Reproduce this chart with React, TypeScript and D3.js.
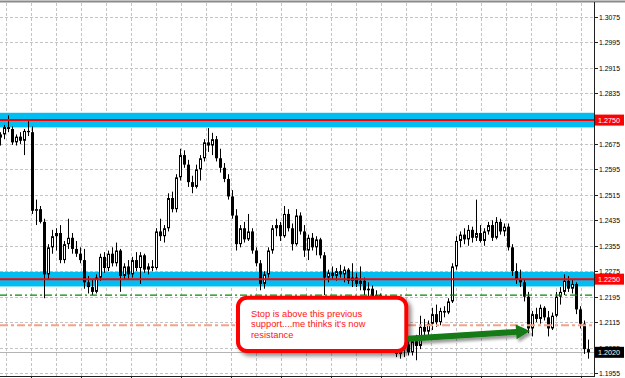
import React from "react";
import * as d3 from "d3";

const opens = [1.2695,1.2705,1.2728,1.2722,1.2680,1.2698,1.2685,1.2716,1.2712,1.2465,1.2470,1.2430,1.2265,1.2350,1.2385,1.2395,1.2310,1.2360,1.2380,1.2345,1.2330,1.2310,1.2240,1.2225,1.2210,1.2255,1.2320,1.2285,1.2330,1.2300,1.2340,1.2260,1.2290,1.2265,1.2310,1.2285,1.2325,1.2280,1.2290,1.2285,1.2400,1.2385,1.2410,1.2505,1.2470,1.2570,1.2640,1.2610,1.2555,1.2540,1.2595,1.2630,1.2680,1.2670,1.2690,1.2630,1.2600,1.2565,1.2510,1.2450,1.2360,1.2410,1.2375,1.2400,1.2340,1.2300,1.2235,1.2265,1.2340,1.2410,1.2420,1.2385,1.2455,1.2410,1.2360,1.2450,1.2400,1.2340,1.2380,1.2350,1.2375,1.2325,1.2255,1.2270,1.2260,1.2275,1.2265,1.2280,1.2245,1.2255,1.2235,1.2245,1.2215,1.2220,1.2190,1.2200,1.2150,1.2100,1.2060,1.2035,1.2015,1.2030,1.2045,1.2020,1.2055,1.2040,1.2100,1.2085,1.2110,1.2140,1.2115,1.2150,1.2145,1.2180,1.2290,1.2370,1.2390,1.2375,1.2405,1.2380,1.2395,1.2370,1.2400,1.2420,1.2380,1.2430,1.2400,1.2415,1.2350,1.2275,1.2250,1.2240,1.2195,1.2095,1.2140,1.2125,1.2160,1.2130,1.2095,1.2135,1.2195,1.2210,1.2245,1.2220,1.2235,1.2155,1.2110,1.2030];
const highs = [1.2712,1.2735,1.2765,1.2730,1.2705,1.2712,1.2722,1.2752,1.2730,1.2500,1.2480,1.2440,1.2360,1.2405,1.2410,1.2420,1.2370,1.2440,1.2395,1.2370,1.2350,1.2345,1.2260,1.2250,1.2265,1.2330,1.2335,1.2340,1.2350,1.2365,1.2345,1.2300,1.2310,1.2320,1.2335,1.2335,1.2330,1.2300,1.2310,1.2410,1.2440,1.2420,1.2520,1.2525,1.2580,1.2660,1.2655,1.2625,1.2575,1.2610,1.2640,1.2690,1.2725,1.2710,1.2700,1.2660,1.2615,1.2580,1.2530,1.2470,1.2420,1.2430,1.2455,1.2410,1.2350,1.2310,1.2275,1.2350,1.2420,1.2440,1.2430,1.2480,1.2470,1.2425,1.2470,1.2460,1.2420,1.2390,1.2395,1.2385,1.2380,1.2335,1.2280,1.2290,1.2285,1.2295,1.2290,1.2285,1.2300,1.2270,1.2290,1.2255,1.2240,1.2230,1.2215,1.2205,1.2165,1.2110,1.2080,1.2050,1.2045,1.2055,1.2070,1.2065,1.2075,1.2135,1.2125,1.2120,1.2160,1.2170,1.2160,1.2165,1.2190,1.2300,1.2385,1.2400,1.2410,1.2420,1.2415,1.2500,1.2420,1.2410,1.2430,1.2435,1.2445,1.2440,1.2425,1.2425,1.2360,1.2300,1.2280,1.2250,1.2210,1.2150,1.2160,1.2170,1.2165,1.2150,1.2145,1.2210,1.2225,1.2265,1.2260,1.2250,1.2240,1.2165,1.2120,1.2060];
const lows = [1.2670,1.2690,1.2712,1.2672,1.2670,1.2675,1.2640,1.2700,1.2455,1.2420,1.2425,1.2190,1.2250,1.2330,1.2340,1.2300,1.2300,1.2345,1.2330,1.2320,1.2300,1.2220,1.2205,1.2200,1.2205,1.2245,1.2270,1.2275,1.2290,1.2290,1.2210,1.2250,1.2250,1.2255,1.2275,1.2235,1.2270,1.2265,1.2275,1.2280,1.2370,1.2365,1.2400,1.2460,1.2460,1.2560,1.2600,1.2540,1.2520,1.2535,1.2560,1.2620,1.2650,1.2640,1.2620,1.2585,1.2555,1.2500,1.2440,1.2340,1.2350,1.2365,1.2370,1.2330,1.2290,1.2215,1.2220,1.2255,1.2330,1.2385,1.2370,1.2380,1.2400,1.2340,1.2355,1.2390,1.2320,1.2310,1.2340,1.2325,1.2315,1.2200,1.2240,1.2250,1.2245,1.2255,1.2240,1.2235,1.2225,1.2225,1.2215,1.2200,1.2195,1.2180,1.2170,1.2140,1.2090,1.2050,1.2020,1.2005,1.2000,1.2005,1.2010,1.2010,1.1995,1.2030,1.2070,1.2065,1.2090,1.2100,1.2105,1.2130,1.2140,1.2175,1.2280,1.2350,1.2360,1.2355,1.2365,1.2370,1.2365,1.2355,1.2390,1.2370,1.2375,1.2390,1.2385,1.2340,1.2260,1.2235,1.2225,1.2180,1.2080,1.2070,1.2115,1.2110,1.2120,1.2070,1.2090,1.2130,1.2170,1.2200,1.2210,1.2205,1.2140,1.2095,1.2015,1.2000];
const closes = [1.2705,1.2728,1.2722,1.2680,1.2698,1.2685,1.2716,1.2712,1.2465,1.2470,1.2430,1.2265,1.2350,1.2385,1.2395,1.2310,1.2360,1.2380,1.2345,1.2330,1.2310,1.2240,1.2225,1.2210,1.2255,1.2320,1.2285,1.2330,1.2300,1.2340,1.2260,1.2290,1.2265,1.2310,1.2285,1.2325,1.2280,1.2290,1.2285,1.2400,1.2385,1.2410,1.2505,1.2470,1.2570,1.2640,1.2610,1.2555,1.2540,1.2595,1.2630,1.2680,1.2670,1.2690,1.2630,1.2600,1.2565,1.2510,1.2450,1.2360,1.2410,1.2375,1.2400,1.2340,1.2300,1.2235,1.2265,1.2340,1.2410,1.2420,1.2385,1.2455,1.2410,1.2360,1.2450,1.2400,1.2340,1.2380,1.2350,1.2375,1.2325,1.2255,1.2270,1.2260,1.2275,1.2265,1.2280,1.2245,1.2255,1.2235,1.2245,1.2215,1.2220,1.2190,1.2200,1.2150,1.2100,1.2060,1.2035,1.2015,1.2030,1.2045,1.2020,1.2055,1.2040,1.2100,1.2085,1.2110,1.2140,1.2115,1.2150,1.2145,1.2180,1.2290,1.2370,1.2390,1.2375,1.2405,1.2380,1.2395,1.2370,1.2400,1.2420,1.2380,1.2430,1.2400,1.2415,1.2350,1.2275,1.2250,1.2240,1.2195,1.2095,1.2140,1.2125,1.2160,1.2130,1.2095,1.2135,1.2195,1.2210,1.2245,1.2220,1.2235,1.2155,1.2110,1.2030,1.2020];

const priceTicks = [1.3075, 1.2995, 1.2915, 1.2835, 1.2755, 1.2675, 1.2595, 1.2515, 1.2435, 1.2355, 1.2275, 1.2195, 1.2115, 1.2035, 1.1955];
const hiddenTickLabels = [1.2755];
const zoneLevels = [1.2750, 1.2250];
const zoneHalfWidth = 0.0023;
const greenLevel = 1.2200;
const salmonLevel = 1.2105;
const currentPrice = 1.2020;
const calloutLines = ["Stop is above this previous", "support....me thinks it's now", "resistance"];
const arrowFrom = [101.8, 1.2063];
const arrowTo = [132.4, 1.2087];

export default function App() {
  const W = 625, H = 378, plotRight = 594;
  const n = closes.length;
  const y = d3.scaleLinear().domain([1.1955, 1.3075]).range([373, 16.7]);
  const x = d3.scaleLinear().domain([0, n - 1]).range([0.5, 0.5 + 4 * (n - 1)]);
  const vgrid = d3.range(6, plotRight, 25);
  const bottomTicks = d3.range(31, plotRight, 50);
  const font = "'Liberation Sans', Arial, sans-serif";

  const ax0 = x(arrowFrom[0]), ay0 = y(arrowFrom[1]);
  const ax1 = x(arrowTo[0]), ay1 = y(arrowTo[1]);
  const dx = ax1 - ax0, dy = ay1 - ay0, len = Math.hypot(dx, dy);
  const ux = dx / len, uy = dy / len, px = -uy, py = ux;
  const sw = 3, hl = 14, hw = 7.5;
  const bx = ax1 - ux * hl, by = ay1 - uy * hl;
  const arrowPts = [
    [ax0 + px * sw, ay0 + py * sw],
    [bx + px * sw, by + py * sw],
    [bx + px * hw, by + py * hw],
    [ax1, ay1],
    [bx - px * hw, by - py * hw],
    [bx - px * sw, by - py * sw],
    [ax0 - px * sw, ay0 - py * sw],
  ].map((p) => p.join(",")).join(" ");

  const priceLabel = (v: number, bg: string, fg: string, key: string) => (
    <g key={key}>
      <rect x={595} y={y(v) - 5.5} width={29} height={11} fill={bg} />
      <text x={598} y={y(v) + 3} fontSize={8} fontFamily={font} fill={fg} textLength={22} lengthAdjust="spacingAndGlyphs">
        {v.toFixed(4)}
      </text>
    </g>
  );

  return (
    <svg width={W} height={H} style={{ position: "fixed", left: 0, top: 0, background: "#fff" }}>
      <defs>
        <filter id="boxShadow" x="-10%" y="-20%" width="130%" height="150%">
          <feDropShadow dx="3" dy="3" stdDeviation="2" floodColor="#000" floodOpacity="0.45" />
        </filter>
        <filter id="arrowShadow" x="-10%" y="-50%" width="130%" height="250%">
          <feDropShadow dx="2" dy="3" stdDeviation="1.5" floodColor="#000" floodOpacity="0.4" />
        </filter>
        <clipPath id="plot"><rect x={0} y={2} width={plotRight} height={374} /></clipPath>
      </defs>
      <rect x={0} y={0} width={W} height={H} fill="#fff" />
      <g stroke="#c4c4c4" strokeWidth={1} strokeDasharray="3,2">
        {priceTicks.map((t) => (
          <line key={"h" + t} x1={0} x2={plotRight} y1={Math.round(y(t)) + 0.5} y2={Math.round(y(t)) + 0.5} />
        ))}
        {vgrid.map((g) => (
          <line key={"v" + g} x1={g + 0.5} x2={g + 0.5} y1={3} y2={376} />
        ))}
      </g>
      <g clipPath="url(#plot)">
        {zoneLevels.map((z) => (
          <rect key={"z" + z} x={0} y={y(z + zoneHalfWidth)} width={plotRight} height={y(z - zoneHalfWidth) - y(z + zoneHalfWidth)} fill="#00BDF2" />
        ))}
        <line x1={0} x2={plotRight} y1={Math.round(y(currentPrice)) + 0.5} y2={Math.round(y(currentPrice)) + 0.5} stroke="#b4b4b4" strokeWidth={1} />
        {closes.map((c, i) => {
          const o = opens[i], h = highs[i], l = lows[i];
          const cx = x(i);
          const top = y(Math.max(o, c)), bot = y(Math.min(o, c));
          const bull = c >= o;
          const bh = Math.max(1, bot - top);
          return (
            <g key={i}>
              <line x1={cx} x2={cx} y1={y(h)} y2={y(l)} stroke="#000" strokeWidth={1} />
              {bull ? (
                <rect x={cx - 1} y={top + 0.5} width={2} height={Math.max(0.5, bh - 1)} fill="#fff" stroke="#000" strokeWidth={1} />
              ) : (
                <rect x={cx - 1.5} y={top} width={3} height={bh} fill="#000" />
              )}
            </g>
          );
        })}
        {zoneLevels.map((z) => (
          <line key={"r" + z} x1={0} x2={plotRight} y1={y(z)} y2={y(z)} stroke="#FF0000" strokeWidth={2} />
        ))}
        <line x1={0} x2={plotRight} y1={y(greenLevel)} y2={y(greenLevel)} stroke="#008C00" strokeWidth={1.3} strokeDasharray="7,3,2,3" />
        <line x1={0} x2={plotRight} y1={y(salmonLevel)} y2={y(salmonLevel)} stroke="#F5A385" strokeWidth={2} strokeDasharray="8,3,3,3" />
      </g>
      <line x1={0} x2={W} y1={1.5} y2={1.5} stroke="#8a8a8a" strokeWidth={2} />
      <line x1={plotRight + 0.5} x2={plotRight + 0.5} y1={2} y2={377} stroke="#202020" strokeWidth={1} />
      <line x1={0} x2={plotRight} y1={376.5} y2={376.5} stroke="#202020" strokeWidth={1} />
      {bottomTicks.map((t) => (
        <line key={"bt" + t} x1={t + 0.5} x2={t + 0.5} y1={376} y2={378} stroke="#202020" />
      ))}
      {priceTicks.map((t) => (
        <g key={"t" + t}>
          <line x1={plotRight} x2={598} y1={Math.round(y(t)) + 0.5} y2={Math.round(y(t)) + 0.5} stroke="#202020" />
          {hiddenTickLabels.includes(t) ? null : (
            <text x={599} y={y(t) + 3} fontSize={8} fontFamily={font} fill="#000" textLength={21} lengthAdjust="spacingAndGlyphs">
              {t.toFixed(4)}
            </text>
          )}
        </g>
      ))}
      {zoneLevels.map((z) => priceLabel(z, "#FF0000", "#fff", "pl" + z))}
      {priceLabel(currentPrice, "#000", "#fff", "cur")}
      <rect x={238} y={297.7} width={168.3} height={53.3} rx={9} ry={9} fill="#fff" stroke="#FF0000" strokeWidth={4} filter="url(#boxShadow)" />
      <g fontFamily={font} fontSize={9.3} fill="#FF1414">
        {calloutLines.map((t, i) => (
          <text key={t} x={251} y={316.6 + i * 10.6}>{t}</text>
        ))}
      </g>
      <polygon points={arrowPts} fill="#137A13" filter="url(#arrowShadow)" />
    </svg>
  );
}
